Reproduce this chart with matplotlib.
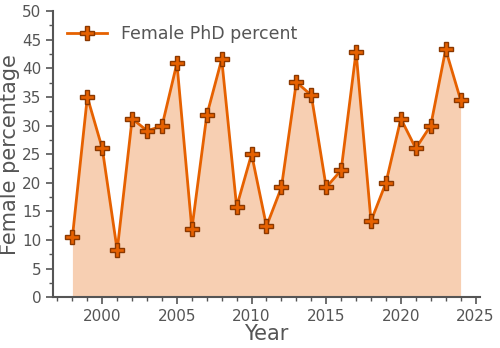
import matplotlib

matplotlib.use("Agg")
import matplotlib.pyplot as plt
from matplotlib.ticker import MultipleLocator

years = list(range(1998, 2025))
female_pct = [10.5, 35.0, 26.0, 8.2, 31.2, 29.1, 29.9, 40.9, 11.9, 31.8,
              41.6, 15.8, 25.0, 12.4, 19.2, 37.6, 35.3, 19.2, 22.2, 42.9,
              13.3, 20.0, 31.2, 26.0, 30.0, 43.3, 34.5]

ORANGE = "#e66100"
GREY = "#555555"

plt.rcParams["font.family"] = "DejaVu Sans"
fig, ax = plt.subplots(figsize=(5.0, 3.48), dpi=100)
fig.subplots_adjust(left=0.106, right=0.96, top=0.968, bottom=0.146)

ax.fill_between(years, female_pct, 0, color=ORANGE, alpha=0.3, linewidth=0)
ax.plot(years, female_pct, color=ORANGE, linewidth=2, marker="P", markersize=10,
        markerfacecolor=ORANGE, markeredgecolor="#8a3800", markeredgewidth=1,
        label="Female PhD percent")

ax.set_ylim(0, 50)
ax.yaxis.set_major_locator(MultipleLocator(5))
ax.yaxis.set_minor_locator(MultipleLocator(2.5))
ax.xaxis.set_major_locator(MultipleLocator(5))
ax.xaxis.set_minor_locator(MultipleLocator(1))

ax.set_xlabel("Year", fontsize=15, color=GREY, labelpad=0)
ax.set_ylabel("Female percentage", fontsize=15, color=GREY)
ax.yaxis.set_label_coords(-0.078, 0.5)
ax.tick_params(axis="both", which="major", labelsize=11, colors=GREY, length=5, width=1.2)
ax.tick_params(axis="both", which="minor", colors=GREY, length=3, width=1)
ax.spines[["top", "right"]].set_visible(False)
for side in ("left", "bottom"):
    ax.spines[side].set_color(GREY)
    ax.spines[side].set_linewidth(1.5)

leg = ax.legend(loc="upper left", frameon=False, fontsize=12.5, handlelength=2.3,
                borderaxespad=0.4)
for t in leg.get_texts():
    t.set_color(GREY)

fig.savefig("out.png", dpi=100)
